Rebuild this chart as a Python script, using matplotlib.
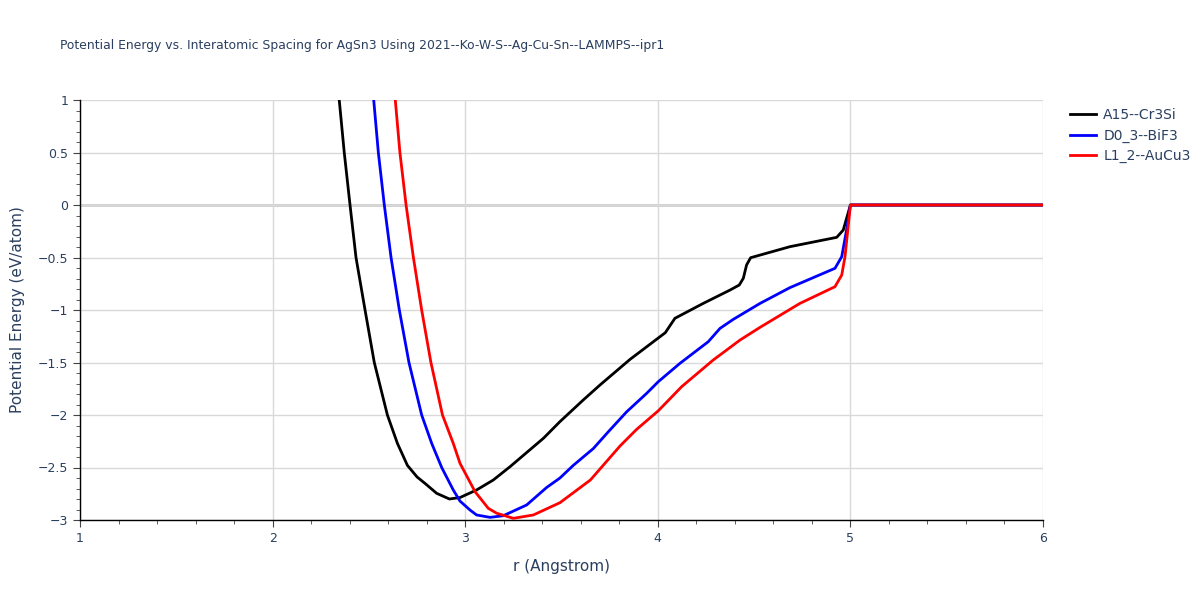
import matplotlib
matplotlib.use("Agg")
import matplotlib.pyplot as plt
from matplotlib.ticker import MultipleLocator

title = "Potential Energy vs. Interatomic Spacing for AgSn3 Using 2021--Ko-W-S--Ag-Cu-Sn--LAMMPS--ipr1"
labels = ["A15--Cr3Si", "D0_3--BiF3", "L1_2--AuCu3"]
colors = ["black", "blue", "red"]

r_a15 = [2.346, 2.372, 2.402, 2.433, 2.480, 2.528, 2.596, 2.648, 2.700, 2.750, 2.791, 2.852,
         2.918, 2.973, 3.059, 3.146, 3.233, 3.406, 3.492, 3.613, 3.700, 3.856, 4.039,
         4.089, 4.236, 4.375, 4.423, 4.444, 4.461, 4.482, 4.686, 4.929, 4.963, 5.0, 6.0]
e_a15 = [1.0, 0.5, 0.0, -0.5, -1.0, -1.5, -2.0, -2.27, -2.48, -2.59, -2.651, -2.746,
         -2.800, -2.786, -2.714, -2.619, -2.492, -2.222, -2.063, -1.857, -1.714, -1.470, -1.216,
         -1.079, -0.937, -0.81, -0.762, -0.698, -0.571, -0.502, -0.397, -0.308, -0.238, 0.0, 0.0]

r_d03 = [2.525, 2.549, 2.580, 2.615, 2.658, 2.708, 2.774, 2.826, 2.878, 2.938, 2.973,
         3.025, 3.059, 3.129, 3.198, 3.319, 3.423, 3.492, 3.561, 3.665, 3.743, 3.838,
         3.942, 4.003, 4.115, 4.262, 4.323, 4.392, 4.531, 4.686, 4.920, 4.955, 4.980, 5.0, 6.0]
e_d03 = [1.0, 0.5, 0.0, -0.5, -1.0, -1.5, -2.0, -2.27, -2.5, -2.714, -2.82,
         -2.905, -2.952, -2.975, -2.959, -2.857, -2.69, -2.60, -2.48, -2.32, -2.16, -1.97,
         -1.794, -1.682, -1.508, -1.302, -1.175, -1.089, -0.937, -0.787, -0.603, -0.492, -0.238, 0.0, 0.0]

r_l12 = [2.637, 2.661, 2.693, 2.731, 2.774, 2.822, 2.882, 2.938, 2.973, 3.051, 3.120,
         3.163, 3.250, 3.354, 3.492, 3.650, 3.804, 3.890, 4.003, 4.124, 4.288, 4.427,
         4.531, 4.738, 4.920, 4.955, 4.972, 5.0, 6.0]
e_l12 = [1.0, 0.5, 0.0, -0.5, -1.0, -1.5, -2.0, -2.27, -2.46, -2.73, -2.889,
         -2.935, -2.984, -2.952, -2.835, -2.619, -2.295, -2.137, -1.959, -1.730, -1.476, -1.286,
         -1.165, -0.937, -0.778, -0.667, -0.492, 0.0, 0.0]

xticks = [1, 2, 3, 4, 5, 6]
yticks = [1, 0.5, 0, -0.5, -1, -1.5, -2, -2.5, -3]
ytick_labels = ["1", "0.5", "0", "\u22120.5", "\u22121", "\u22121.5", "\u22122", "\u22122.5", "\u22123"]

txt = "#2a3f5f"
plt.rcParams['font.family'] = ['DejaVu Sans']

fig = plt.figure(figsize=(12, 6), dpi=100)
ax = fig.add_axes([80/1200, 1-520/600, (1043-80)/1200, 420/600])

for r, e, lab, c in zip([r_a15, r_d03, r_l12], [e_a15, e_d03, e_l12], labels, colors):
    ax.plot(r, e, color=c, lw=2, label=lab, zorder=3)

ax.set_xlim(1, 6)
ax.set_ylim(-3, 1)
ax.set_xticks(xticks)
ax.set_yticks(yticks)
ax.set_yticklabels(ytick_labels)
ax.xaxis.set_minor_locator(MultipleLocator(0.2))
ax.yaxis.set_minor_locator(MultipleLocator(0.1))
ax.grid(True, which='major', color='#d9d9d9', lw=1, zorder=0)
ax.axhline(0, color='#cccccc', lw=2, zorder=1)
for s in ['top', 'right']:
    ax.spines[s].set_visible(False)
for s in ['left', 'bottom']:
    ax.spines[s].set_color('black')
    ax.spines[s].set_linewidth(1)
ax.tick_params(axis='both', which='major', length=5, color='#444444', labelcolor=txt, labelsize=9, direction='out')
ax.tick_params(axis='both', which='minor', length=3, color='#444444', direction='out')
ax.set_xlabel("r (Angstrom)", color=txt, fontsize=11, labelpad=10)
ax.set_ylabel("Potential Energy (eV/atom)", color=txt, fontsize=11, labelpad=9)

fig.text(60/1200, 1-45/600, title, color=txt, fontsize=8.9, ha='left', va='center')

leg = ax.legend(loc='upper left', bbox_to_anchor=(1.015, 1.01), frameon=False, fontsize=10,
                handlelength=1.9, handletextpad=0.5, labelspacing=0.45)
for t in leg.get_texts():
    t.set_color(txt)

fig.savefig("out.png", dpi=100, facecolor='white')
